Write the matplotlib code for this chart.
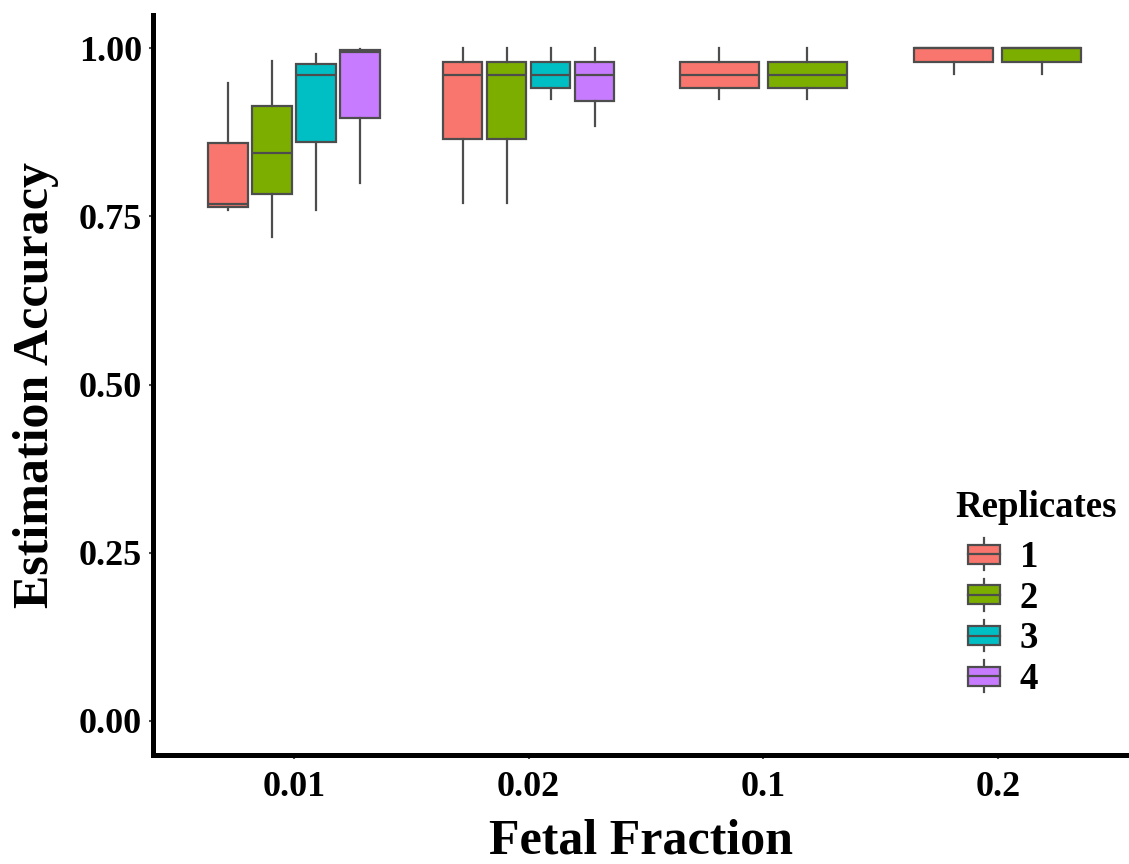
import matplotlib
matplotlib.use("Agg")
import matplotlib.pyplot as plt
from matplotlib.patches import Rectangle
from matplotlib.lines import Line2D
from matplotlib.legend_handler import HandlerBase

# data (five-number summaries per box)
fractions = ["0.01", "0.02", "0.1", "0.2"]
replicates = ["1", "2", "3", "4"]
colors = ["#F8766D", "#7CAE00", "#00BFC4", "#C77CFF"]

# one list per fetal fraction, one entry per replicate present
whislo = [[0.760, 0.720, 0.760, 0.800],
          [0.770, 0.770, 0.924, 0.884],
          [0.924, 0.924],
          [0.962, 0.962]]
q1 = [[0.764, 0.783, 0.860, 0.896],
      [0.865, 0.865, 0.941, 0.922],
      [0.941, 0.941],
      [0.980, 0.980]]
med = [[0.769, 0.845, 0.961, 0.995],
       [0.960, 0.960, 0.960, 0.960],
       [0.960, 0.960],
       [1.000, 1.000]]
q3 = [[0.859, 0.914, 0.977, 0.997],
      [0.980, 0.980, 0.980, 0.980],
      [0.980, 0.980],
      [1.000, 1.000]]
whishi = [[0.949, 0.981, 0.992, 0.999],
          [1.000, 1.000, 1.000, 1.000],
          [1.000, 1.000],
          [1.000, 1.000]]

edge = "#4d4d4d"
plt.rcParams["font.family"] = ["Liberation Serif", "DejaVu Serif"]
plt.rcParams["font.weight"] = "bold"

fig = plt.figure(figsize=(11.29, 8.64), dpi=100)
ax = fig.add_axes([0.1358, 0.1266, 0.8642, 0.8564])

for g, name in enumerate(fractions):
    n = len(med[g])
    slot = 0.75 / n
    for i in range(n):
        pos = g + 1 - 0.375 + slot * (i + 0.5)
        stats = [dict(whislo=whislo[g][i], q1=q1[g][i], med=med[g][i],
                      q3=q3[g][i], whishi=whishi[g][i], fliers=[])]
        ax.bxp(stats, positions=[pos], widths=slot * 0.9, patch_artist=True,
               showcaps=False, manage_ticks=False,
               boxprops=dict(facecolor=colors[i], edgecolor=edge, linewidth=1.6),
               medianprops=dict(color=edge, linewidth=1.6),
               whiskerprops=dict(color=edge, linewidth=1.6))

ax.set_xlim(0.4, 4.559)
ax.set_ylim(-0.05, 1.05)
ax.set_xticks([1, 2, 3, 4])
ax.set_xticklabels(fractions)
ax.set_yticks([0, 0.25, 0.5, 0.75, 1.0])
ax.set_yticklabels(["0.00", "0.25", "0.50", "0.75", "1.00"])
ax.tick_params(axis="both", length=3, width=1.5, color=edge, labelsize=26, pad=5)
ax.tick_params(axis="x", pad=9)

for s in ["top", "right"]:
    ax.spines[s].set_visible(False)
for s in ["left", "bottom"]:
    ax.spines[s].set_linewidth(3.6)
    ax.spines[s].set_color("black")
    ax.spines[s].set_capstyle("projecting")

ax.set_xlabel("Fetal Fraction", fontsize=36, fontweight="bold", labelpad=10)
ax.set_ylabel("Estimation Accuracy", fontsize=36, fontweight="bold", labelpad=14)


class BoxHandler(HandlerBase):
    # ggplot-style boxplot key: box, median line and whisker stubs
    def __init__(self, color):
        super().__init__()
        self.color = color

    def create_artists(self, legend, orig_handle, xdescent, ydescent,
                       width, height, fontsize, trans):
        bw = 23.0  # key box width in points, right-aligned in the handle area
        x0 = width - bw - xdescent
        x1 = width - xdescent
        cx = (x0 + x1) / 2
        box = Rectangle((x0, -ydescent + height * 0.2), bw, height * 0.6,
                        facecolor=self.color, edgecolor=edge, lw=1.6, transform=trans)
        mid = Line2D([x0, x1], [height / 2 - ydescent] * 2,
                     color=edge, lw=1.6, transform=trans)
        up = Line2D([cx, cx], [height * 0.8 - ydescent, height * 1.0 - ydescent],
                    color=edge, lw=1.6, transform=trans)
        dn = Line2D([cx, cx], [-ydescent, height * 0.2 - ydescent],
                    color=edge, lw=1.6, transform=trans)
        return [up, dn, box, mid]


handles = [Rectangle((0, 0), 1, 1) for _ in replicates]
leg = ax.legend(handles, replicates, title="Replicates", loc="upper right",
                bbox_to_anchor=(1.022, 0.402), frameon=False, fontsize=26.5,
                title_fontproperties=dict(size=26.5, weight="bold"),
                handler_map={h: BoxHandler(c) for h, c in zip(handles, colors)},
                handlelength=1.2, handleheight=0.95, labelspacing=0.11,
                handletextpad=0.54)
leg._legend_box.align = "left"
leg._legend_box.sep = 9.5

fig.savefig("out.png", dpi=100)
